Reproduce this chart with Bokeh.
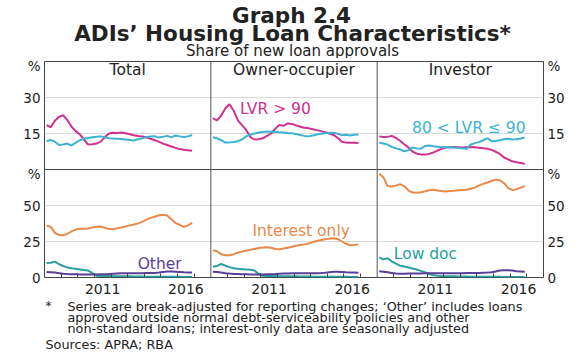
from bokeh.plotting import figure
from bokeh.models import Range1d, LinearAxis, FixedTicker, Span, Label
from bokeh.layouts import column
from bokeh.embed import file_html
from bokeh.resources import INLINE

# ---------------- data (quarterly) ----------------
quarters = [2008.125 + 0.25 * i for i in range(36)]

panels = ["Total", "Owner-occupier", "Investor"]

# share of new loan approvals, LVR > 90 (%)
lvr90_total = [18.5, 17.6, 20.3, 22.0, 22.6, 20.6, 17.8, 16.0, 14.6, 12.5, 10.4, 10.5,
               10.8, 11.6, 13.4, 15.0, 15.3, 15.2, 15.4, 15.1, 14.7, 14.3, 14.0, 13.8,
               13.4, 12.8, 12.2, 11.6, 10.8, 10.2, 9.6, 9.0, 8.5, 8.2, 8.0, 7.8]
lvr90_owner = [21.3, 20.5, 22.5, 25.5, 27.2, 24.5, 20.5, 18.5, 16.5, 13.5, 12.5, 12.6,
               13.0, 14.0, 15.0, 17.0, 18.6, 18.2, 19.2, 19.0, 18.4, 17.8, 17.4, 17.2,
               16.8, 16.4, 16.0, 15.5, 15.0, 14.4, 13.2, 11.6, 11.2, 11.1, 11.1, 11.0]
lvr90_investor = [13.8, 13.5, 13.6, 14.0, 13.2, 12.0, 10.5, 9.2, 7.5, 6.6, 6.3, 6.2,
                  6.5, 7.1, 7.9, 8.6, 9.2, 9.3, 9.4, 9.3, 9.2, 9.3, 9.4, 9.3,
                  9.1, 8.9, 8.6, 8.2, 7.4, 6.5, 5.0, 4.2, 3.4, 3.0, 2.7, 2.4]

# 80 < LVR <= 90 (%)
lvr80_total = [11.8, 12.3, 11.6, 10.2, 10.4, 10.8, 10.0, 11.2, 12.2, 12.8, 13.1, 13.4,
               13.6, 13.8, 13.4, 13.0, 12.9, 12.8, 12.7, 12.5, 12.3, 12.1, 12.6, 13.0,
               13.4, 13.8, 13.9, 13.3, 13.6, 14.0, 13.4, 14.2, 13.8, 13.5, 13.8, 14.4]
lvr80_owner = [13.4, 13.0, 12.2, 11.2, 11.3, 11.5, 11.8, 12.5, 13.8, 14.5, 15.0, 15.4,
               15.6, 15.8, 15.7, 15.6, 15.5, 15.4, 15.2, 15.1, 14.8, 14.4, 14.0, 13.8,
               14.2, 14.6, 14.9, 15.1, 15.2, 15.3, 14.9, 14.3, 14.5, 14.2, 14.5, 14.6]
lvr80_investor = [11.2, 10.8, 10.4, 9.4, 8.8, 8.4, 7.6, 8.0, 9.2, 8.8, 8.6, 9.8,
                  10.0, 9.7, 9.5, 9.3, 9.4, 9.3, 9.2, 9.0, 8.8, 8.6, 10.4, 11.0,
                  11.4, 12.2, 13.0, 11.8, 11.9, 12.2, 12.6, 12.8, 12.5, 12.6, 12.9, 13.4]

# interest only (%)
io_total = [36.0, 35.2, 31.0, 29.5, 29.3, 30.3, 32.0, 33.3, 33.8, 33.8, 34.0, 34.8,
            35.2, 35.4, 34.6, 33.6, 33.6, 34.2, 34.8, 35.4, 36.2, 36.8, 37.6, 38.6,
            40.2, 41.4, 42.2, 43.2, 43.5, 43.0, 40.5, 37.8, 36.6, 35.2, 36.2, 38.0]
io_owner = [19.0, 18.2, 16.2, 15.4, 15.5, 16.2, 17.2, 18.0, 18.6, 19.3, 19.8, 20.5,
            20.8, 21.0, 20.6, 19.8, 19.6, 20.2, 20.6, 21.4, 22.0, 22.6, 23.0, 23.6,
            24.6, 25.4, 26.0, 26.6, 27.0, 27.2, 26.8, 25.0, 23.4, 22.4, 22.6, 23.0]
io_investor = [72.0, 69.5, 63.5, 63.2, 63.8, 64.8, 63.5, 60.5, 59.0, 58.8, 59.2, 59.8,
               60.6, 61.0, 60.4, 60.0, 59.8, 60.0, 60.2, 60.6, 60.8, 61.0, 61.6, 62.4,
               64.0, 65.0, 66.0, 67.0, 68.0, 67.4, 65.6, 62.0, 60.8, 61.2, 62.4, 63.4]

# low doc (%)
lowdoc_total = [10.0, 10.2, 11.0, 9.2, 8.0, 7.0, 6.4, 6.0, 5.6, 5.2, 4.8, 3.0,
                1.3, 1.1, 1.0, 1.0, 0.9, 0.9, 0.8, 0.8, 0.8, 0.7, 0.7, 0.7,
                0.6, 0.6, 0.6, 0.6, 0.5, 0.5, 0.5, 0.5, 0.5, 0.4, 0.4, 0.4]
lowdoc_owner = [7.4, 8.0, 9.4, 8.2, 7.2, 6.4, 6.0, 5.8, 5.6, 5.4, 4.8, 2.4,
                1.2, 1.1, 1.0, 1.0, 0.9, 0.9, 0.8, 0.8, 0.8, 0.7, 0.7, 0.7,
                0.6, 0.6, 0.6, 0.6, 0.5, 0.5, 0.5, 0.5, 0.5, 0.4, 0.4, 0.4]
lowdoc_investor = [14.0, 12.6, 13.4, 11.2, 9.6, 8.2, 7.6, 7.0, 6.2, 5.6, 4.6, 3.6,
                   2.4, 1.6, 1.2, 1.0, 0.9, 0.8, 0.8, 0.7, 0.7, 0.7, 0.6, 0.6,
                   0.6, 0.5, 0.5, 0.5, 0.5, 0.5, 0.4, 0.4, 0.4, 0.4, 0.4, 0.4]

# other (%)
other_total = [3.8, 3.6, 3.4, 3.0, 2.6, 2.4, 2.3, 2.2, 2.1, 2.0, 2.0, 2.0,
               2.1, 2.2, 2.3, 2.4, 2.6, 2.8, 2.9, 3.0, 3.0, 3.0, 3.0, 3.0,
               3.1, 3.1, 3.2, 3.4, 3.8, 4.2, 4.2, 4.0, 3.8, 3.6, 3.5, 3.4]
other_owner = [4.0, 3.8, 3.5, 3.0, 2.7, 2.5, 2.4, 2.3, 2.2, 2.1, 2.0, 2.0,
               2.1, 2.2, 2.3, 2.4, 2.6, 2.7, 2.8, 2.9, 2.9, 2.9, 3.0, 3.0,
               3.0, 3.0, 3.1, 3.3, 3.7, 4.0, 4.0, 3.8, 3.6, 3.5, 3.4, 3.3]
other_investor = [4.4, 4.0, 3.6, 3.2, 2.8, 2.6, 2.6, 2.7, 2.8, 2.8, 2.8, 2.9,
                  3.0, 3.0, 3.0, 2.9, 2.9, 3.0, 3.0, 3.0, 3.0, 3.1, 3.1, 3.2,
                  3.2, 3.3, 3.4, 3.6, 4.2, 4.8, 5.0, 5.0, 4.8, 4.4, 4.2, 4.0]

year_labels = ["2011", "2016"]
top_ticks = [15, 30]
bottom_ticks = [0, 25, 50]

title_lines = ["Graph 2.4", "ADIs\u2019 Housing Loan Characteristics*",
               "Share of new loan approvals"]
footnote_lines = ["Series are break-adjusted for reporting changes; \u2018Other\u2019 includes loans",
                  "approved outside normal debt-serviceability policies and other",
                  "non-standard loans; interest-only data are seasonally adjusted"]
sources_line = "Sources:  APRA; RBA"

# ---------------- styling ----------------
FONT = "DejaVu Sans"
C_MAG = "#d0308e"
C_CYAN = "#3db3d3"
C_ORANGE = "#e8894a"
C_TEAL = "#2a9f9f"
C_PURPLE = "#5b3e98"
TXT = "#222222"

TOP = (0, 45)      # top row y-range
BOT = (0, 75)      # bottom row y-range
W = 580
FL, FR = 44, 543   # frame left / right in page pixels (frames are aligned in the column)


def text_fig(height):
    f = figure(width=W, height=height, x_range=Range1d(FL, FR), y_range=Range1d(height, 0),
               output_backend="svg", toolbar_location=None,
               x_axis_location=None, y_axis_location=None,
               min_border=0, min_border_left=FL, min_border_right=W - FR,
               min_border_top=0, min_border_bottom=0)
    f.outline_line_color = None
    f.xgrid.visible = False
    f.ygrid.visible = False
    f.background_fill_color = "white"
    f.border_fill_color = "white"
    return f


def add_text(f, text, x, y, size, align="left", bold=False, color=TXT):
    f.add_layout(Label(x=x, y=y, text=text, text_color=color, text_font=FONT,
                       text_font_size=size, text_align=align, text_baseline="middle",
                       text_font_style="bold" if bold else "normal"))


# ---------------- header ----------------
HEAD_H = 58
head = text_fig(HEAD_H)
add_text(head, title_lines[0], 291, 15, "21.5px", align="center", bold=True)
add_text(head, title_lines[1], 292, 33, "21.5px", align="center", bold=True)
add_text(head, title_lines[2], 292, 50, "15px", align="center")

# ---------------- main chart ----------------
p = figure(width=W, height=300 - HEAD_H, x_range=Range1d(2008, 2038),
           y_range=Range1d(-TOP[1], TOP[1]),
           output_backend="svg", toolbar_location=None,
           min_border_left=FL, min_border_right=W - FR,
           min_border_top=61 - HEAD_H, min_border_bottom=23)
p.background_fill_color = "white"
p.border_fill_color = "white"
p.outline_line_color = "#444444"
p.outline_line_width = 1

p.extra_x_ranges = {"p0": Range1d(2008, 2018 + 20),
                    "p1": Range1d(2008 - 10, 2018 + 10),
                    "p2": Range1d(2008 - 20, 2018)}
p.extra_y_ranges = {"top": Range1d(-TOP[1], TOP[1]),
                    "bot": Range1d(BOT[0], 2 * BOT[1])}


def bot_to_default(v):
    # bottom-row value expressed in the default (top-row) coordinate
    return -TOP[1] + (2 * TOP[1]) * v / (2 * BOT[1])


y_ticks = top_ticks + [43] + [bot_to_default(v) for v in bottom_ticks] + [bot_to_default(72)]
y_over = {t: str(t) for t in top_ticks}
y_over[43] = "%"
for v in bottom_ticks:
    y_over[bot_to_default(v)] = str(v)
y_over[bot_to_default(72)] = "%"

x_ticks, x_over, x_minor = [], {}, []
for j in range(3):
    for lab_ in year_labels:
        t = int(lab_) + 0.5 + 10 * j
        x_ticks.append(t)
        x_over[t] = lab_
    x_minor += [yy + 10 * j for yy in range(2009, 2018)]


def style_axis(ax):
    ax.axis_line_color = None
    ax.major_tick_line_color = None
    ax.major_tick_in = 0
    ax.major_tick_out = 0
    ax.major_label_text_font = FONT
    ax.major_label_text_color = TXT


xa = p.xaxis[0]
xa.ticker = FixedTicker(ticks=x_ticks, minor_ticks=x_minor)
xa.major_label_overrides = x_over
style_axis(xa)
xa.minor_tick_in = 4
xa.minor_tick_out = 0
xa.minor_tick_line_color = "#444444"
xa.major_label_text_font_size = "14px"
xa.major_label_standoff = 6

ya = p.yaxis[0]
ya.ticker = FixedTicker(ticks=y_ticks, minor_ticks=[])
ya.major_label_overrides = y_over
style_axis(ya)
ya.minor_tick_line_color = None
ya.major_label_text_font_size = "13.5px"
ya.major_label_standoff = 4

yr = LinearAxis(ticker=FixedTicker(ticks=y_ticks, minor_ticks=[]),
                major_label_overrides=y_over)
style_axis(yr)
yr.minor_tick_line_color = None
yr.major_label_text_font_size = "13.5px"
yr.major_label_standoff = 4
p.add_layout(yr, "right")

p.xgrid.visible = False
p.ygrid.ticker = FixedTicker(ticks=top_ticks + [bot_to_default(v) for v in bottom_ticks[1:]])
p.ygrid.grid_line_color = "#d8d8d8"
p.ygrid.grid_line_width = 1

p.add_layout(Span(location=0, dimension="width", line_color="#444444", line_width=1))
for xb in (2018, 2028):
    p.add_layout(Span(location=xb, dimension="height", line_color="#555555", line_width=1))

series_top = [
    (lvr90_total, lvr90_owner, lvr90_investor, C_MAG),
    (lvr80_total, lvr80_owner, lvr80_investor, C_CYAN),
]
series_bot = [
    (io_total, io_owner, io_investor, C_ORANGE),
    (lowdoc_total, lowdoc_owner, lowdoc_investor, C_TEAL),
    (other_total, other_owner, other_investor, C_PURPLE),
]
for s in series_top:
    for j in range(3):
        p.line(quarters, s[j], line_color=s[3], line_width=2,
               x_range_name="p%d" % j, y_range_name="top")
for s in series_bot:
    for j in range(3):
        p.line(quarters, s[j], line_color=s[3], line_width=2,
               x_range_name="p%d" % j, y_range_name="bot")


def lab(text, x, y, xr, yr_, color, size, align="left"):
    p.add_layout(Label(x=x, y=y, x_range_name=xr, y_range_name=yr_, text=text,
                       text_color=color, text_font=FONT, text_font_size=size,
                       text_align=align, text_baseline="middle"))


for j, name in enumerate(panels):
    lab(name, 2013, 41.3, "p%d" % j, "top", TXT, "15.5px", align="center")

lab("LVR > 90", 2009.75, 25.4, "p1", "top", C_MAG, "15.5px")
lab("80 < LVR \u2264 90", 2010.1, 17.5, "p2", "top", C_CYAN, "15.5px")
lab("Interest only", 2010.5, 32.6, "p1", "bot", C_ORANGE, "15.5px")
lab("Other", 2013.6, 9.7, "p0", "bot", C_PURPLE, "15.5px")
lab("Low doc", 2009.0, 16.0, "p2", "bot", C_TEAL, "15.5px")

# ---------------- footer ----------------
foot = text_fig(52)
add_text(foot, "*", 45, 5.5, "12px")
add_text(foot, footnote_lines[0], 67, 5.5, "12.8px")
add_text(foot, footnote_lines[1], 67, 16.5, "12.8px")
add_text(foot, footnote_lines[2], 67, 27.5, "12.8px")
add_text(foot, sources_line, 45, 43.5, "12.8px")

layout = column(head, p, foot, spacing=0)
open("out.html", "w").write(file_html(layout, INLINE))
